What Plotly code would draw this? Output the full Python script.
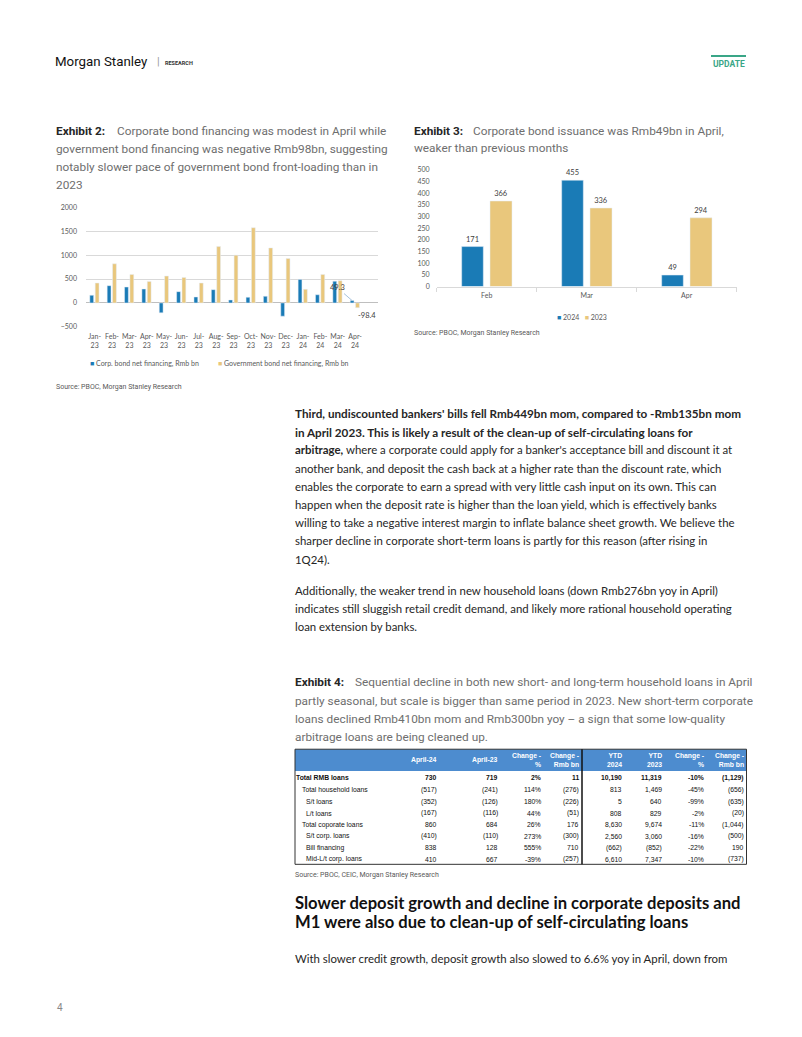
import plotly.graph_objects as go

W, H = 802, 1037
def X(px): return px / W
def Y(py): return 1 - py / H

# ---------------- data ----------------
months = ["Jan-<br>23", "Feb-<br>23", "Mar-<br>23", "Apr-<br>23", "May-<br>23", "Jun-<br>23",
          "Jul-<br>23", "Aug-<br>23", "Sep-<br>23", "Oct-<br>23", "Nov-<br>23", "Dec-<br>23",
          "Jan-<br>24", "Feb-<br>24", "Mar-<br>24", "Apr-<br>24"]
corp_net = [160, 361, 333, 291, -208, 236, 125, 278, 62, 118, 139, -278, 493, 171, 455, 49.3]
gov_net = [416, 819, 597, 451, 562, 534, 416, 1180, 1000, 1575, 1152, 930, 285, 597, 465, -98.4]
ex2_yticks = [-500, 0, 500, 1000, 1500, 2000]

ex3_months = ["Feb", "Mar", "Apr"]
iss_2024 = [171, 455, 49]
iss_2023 = [366, 336, 294]
ex3_yticks = [0, 50, 100, 150, 200, 250, 300, 350, 400, 450, 500]

tbl_headers = ["April-24", "April-23", "Change -<br>%", "Change -<br>Rmb bn",
               "YTD<br>2024", "YTD<br>2023", "Change -<br>%", "Change -<br>Rmb bn"]
row_labels = ["Total RMB loans", "Total household loans", "S/t loans", "L/t loans",
              "Total coporate loans", "S/t corp. loans", "Bill financing", "Mid-L/t corp. loans"]
row_indent = [0, 1, 2, 2, 1, 2, 2, 2]
col_apr24 = ["730", "(517)", "(352)", "(167)", "860", "(410)", "838", "410"]
col_apr23 = ["719", "(241)", "(126)", "(116)", "684", "(110)", "128", "667"]
col_chg_pct = ["2%", "114%", "180%", "44%", "26%", "273%", "555%", "-39%"]
col_chg_bn = ["11", "(276)", "(226)", "(51)", "176", "(300)", "710", "(257)"]
col_ytd24 = ["10,190", "813", "5", "808", "8,630", "2,560", "(662)", "6,610"]
col_ytd23 = ["11,319", "1,469", "640", "829", "9,674", "3,060", "(852)", "7,347"]
col_ytd_pct = ["-10%", "-45%", "-99%", "-2%", "-11%", "-16%", "-22%", "-10%"]
col_ytd_bn = ["(1,129)", "(656)", "(635)", "(20)", "(1,044)", "(500)", "190", "(737)"]
tbl_cols = [col_apr24, col_apr23, col_chg_pct, col_chg_bn, col_ytd24, col_ytd23, col_ytd_pct, col_ytd_bn]

BLUE = "#1a7bb6"
GOLD = "#e9c77c"
GREY_TXT = "#595959"

fig = go.Figure()

# ---------------- Exhibit 2 chart ----------------
fig.add_trace(go.Bar(x=months, y=corp_net, name="Corp. bond net financing, Rmb bn",
                     marker_color=BLUE, width=0.22, offset=-0.28, xaxis="x", yaxis="y",
                     showlegend=False))
fig.add_trace(go.Bar(x=months, y=gov_net, name="Government bond net financing, Rmb bn",
                     marker_color=GOLD, width=0.22, offset=0.03, xaxis="x", yaxis="y",
                     showlegend=False))

# ---------------- Exhibit 3 chart ----------------
fig.add_trace(go.Bar(x=ex3_months, y=iss_2024, name="2024", marker_color=BLUE,
                     width=0.216, offset=-0.25, xaxis="x2", yaxis="y2", showlegend=False,
                     text=iss_2024, textposition="outside", cliponaxis=False,
                     textfont=dict(size=7.5, color="#404040", family="Lato")))
fig.add_trace(go.Bar(x=ex3_months, y=iss_2023, name="2023", marker_color=GOLD,
                     width=0.22, offset=0.033, xaxis="x2", yaxis="y2", showlegend=False,
                     text=iss_2023, textposition="outside", cliponaxis=False,
                     textfont=dict(size=7.5, color="#404040", family="Lato")))

tickfont = dict(family="Lato", size=7, color=GREY_TXT)

fig.update_layout(
    width=W, height=H, margin=dict(l=0, r=0, t=0, b=0), autosize=False,
    paper_bgcolor="white", plot_bgcolor="rgba(0,0,0,0)",
    barmode="overlay",
    xaxis=dict(domain=[X(86), X(377.5)], anchor="y", type="category",
               showgrid=False, showline=False, ticks="", tickfont=tickfont, tickangle=0,
               ticklabelstandoff=4, fixedrange=True),
    yaxis=dict(domain=[Y(324.3), Y(204)], anchor="x", range=[-500, 2000],
               tickvals=ex2_yticks, showgrid=True, gridcolor="#d9d9d9", gridwidth=1,
               zeroline=True, zerolinecolor="#bfbfbf", zerolinewidth=1,
               showline=False, ticks="", tickfont=tickfont, ticklabelstandoff=8),
    xaxis2=dict(domain=[X(436.7), X(736.7)], anchor="y2", type="category",
                showgrid=False, showline=True, linecolor="#d9d9d9", linewidth=1,
                ticks="outside", tickson="boundaries", ticklen=4, tickcolor="#d9d9d9",
                tickfont=tickfont, tickangle=0, ticklabelstandoff=2),
    yaxis2=dict(domain=[Y(283.7), Y(166)], anchor="x2", range=[0, 500],
                tickvals=ex3_yticks, showgrid=False, zeroline=False, showline=False,
                ticks="", tickfont=tickfont, ticklabelstandoff=6),
)

ann = []
shapes = []

def text(x, y, s, size=12, color="#262626", family="Lato", xanchor="left", yanchor="middle", **kw):
    pad = -2 if xanchor == "left" else (2 if xanchor == "right" else 0)
    ann.append(dict(x=X(x + pad), y=Y(y), xref="paper", yref="paper", text=s, showarrow=False,
                    xanchor=xanchor, yanchor=yanchor, align=xanchor if xanchor != "center" else "center",
                    font=dict(size=size, color=color, family=family), **kw))

# chart 1 callouts (values from data)
ann.append(dict(x=15 - 0.17, y=corp_net[-1], xref="x", yref="y", text=f"{corp_net[-1]:.1f}",
                showarrow=True, arrowhead=0, arrowwidth=0.8, arrowcolor="#8fb3d3",
                ax=-15, ay=-13, font=dict(size=7.5, color="#404040", family="Lato")))
ann.append(dict(x=15 + 0.14, y=gov_net[-1], xref="x", yref="y", text=f"{gov_net[-1]:.1f}",
                showarrow=False, xanchor="left", yanchor="top", xshift=-2, yshift=-1,
                font=dict(size=7.5, color="#404040", family="Lato")))

# legends as text
text(90, 361, f'<span style="color:{BLUE}">■</span> Corp. bond net financing, Rmb bn', size=7, color=GREY_TXT)
text(218, 361, f'<span style="color:{GOLD}">■</span> Government bond net financing, Rmb bn', size=7, color=GREY_TXT)
text(582, 314, f'<span style="color:{BLUE}">■</span> 2024   <span style="color:{GOLD}">■</span> 2023',
     size=7, color=GREY_TXT, xanchor="center")

# header
text(55, 57, "Morgan Stanley", size=13.3, color="#111111", family="Roboto")
text(157, 57, "|", size=11, color="#999999", family="Roboto")
text(165, 58, "<b>RESEARCH</b>", size=5.5, color="#333333", family="Roboto")
text(728.5, 59, "<b>UPDATE</b>", size=8.5, color="#3aa687", family="Roboto", xanchor="center")
shapes.append(dict(type="line", xref="paper", yref="paper", x0=X(711), x1=X(746), y0=Y(51.5), y1=Y(51.5),
                   line=dict(color="#3aa687", width=2)))

# exhibit captions
CAP = "#6e6e6e"
CF = "Roboto"
CS = 11.8
text(56, 127, "<b>Exhibit 2:</b>", size=CS, color="#262626", family=CF)
text(117, 127, "Corporate bond financing was modest in April while", size=CS, color=CAP, family=CF)
text(56, 145, "government bond financing was negative Rmb98bn, suggesting", size=CS, color=CAP, family=CF)
text(56, 163, "notably slower pace of government bond front-loading than in", size=CS, color=CAP, family=CF)
text(56, 181, "2023", size=CS, color=CAP, family=CF)

text(414, 127, "<b>Exhibit 3:</b>", size=CS, color="#262626", family=CF)
text(473, 127, "Corporate bond issuance was Rmb49bn in April,", size=CS, color=CAP, family=CF)
text(414, 144.5, "weaker than previous months", size=CS, color=CAP, family=CF)

text(56, 385, "Source: PBOC, Morgan Stanley Research", size=7, color=GREY_TXT, family="Roboto")
text(414, 331, "Source: PBOC, Morgan Stanley Research", size=7, color=GREY_TXT, family="Roboto")

# body
BS = 11.4
body = [
    (411.5, "<b>Third, undiscounted bankers' bills fell Rmb449bn mom, compared to -Rmb135bn mom</b>", 11.7),
    (430, "<b>in April 2023. This is likely a result of the clean-up of self-circulating loans for</b>", 11.7),
    (448.3, "<b>arbitrage,</b> where a corporate could apply for a banker's acceptance bill and discount it at", BS),
    (466.7, "another bank, and deposit the cash back at a higher rate than the discount rate, which", BS),
    (485, "enables the corporate to earn a spread with very little cash input on its own. This can", BS),
    (503.3, "happen when the deposit rate is higher than the loan yield, which is effectively banks", BS),
    (521.7, "willing to take a negative interest margin to inflate balance sheet growth. We believe the", BS),
    (540, "sharper decline in corporate short-term loans is partly for this reason (after rising in", BS),
    (558.5, "1Q24).", BS),
    (590, "Additionally, the weaker trend in new household loans (down Rmb276bn yoy in April)", BS),
    (608.3, "indicates still sluggish retail credit demand, and likely more rational household operating", BS),
    (626.7, "loan extension by banks.", BS),
]
for yy, s, fs in body:
    text(295, yy, s, size=fs, color="#262626")

text(295, 682.7, "<b>Exhibit 4:</b>", size=CS, color="#262626", family=CF)
text(355, 682.7, "Sequential decline in both new short- and long-term household loans in April", size=CS, color=CAP, family=CF)
text(295, 701, "partly seasonal, but scale is bigger than same period in 2023. New short-term corporate", size=CS, color=CAP, family=CF)
text(295, 719.3, "loans declined Rmb410bn mom and Rmb300bn yoy – a sign that some low-quality", size=CS, color=CAP, family=CF)
text(295, 737.7, "arbitrage loans are being cleaned up.", size=CS, color=CAP, family=CF)

# table
TL, TR, TT, TB = 295, 746.5, 750, 866
shapes.append(dict(type="rect", xref="paper", yref="paper", x0=X(TL), x1=X(TR), y0=Y(772), y1=Y(TT),
                   fillcolor="#4d8ccf", line=dict(width=0), layer="below"))
shapes.append(dict(type="rect", xref="paper", yref="paper", x0=X(TL), x1=X(TR), y0=Y(TB), y1=Y(TT),
                   fillcolor="rgba(0,0,0,0)", line=dict(color="#333333", width=1)))
shapes.append(dict(type="line", xref="paper", yref="paper", x0=X(582), x1=X(582), y0=Y(TB), y1=Y(TT),
                   line=dict(color="#111111", width=1.5)))
col_right = [437, 498, 540.5, 579, 621.5, 661.5, 703.5, 744]
row_y = [779, 791, 802.7, 814.3, 826, 837.7, 849.3, 860.7]
TF = "Liberation Sans"
for cx, h in zip(col_right, tbl_headers):
    text(cx, 761, f"<b>{h}</b>", size=6.8, color="white", family=TF, xanchor="right")
indent_x = [296, 302, 306]
for i, lab in enumerate(row_labels):
    s = f"<b>{lab}</b>" if row_indent[i] == 0 else lab
    text(indent_x[row_indent[i]], row_y[i], s, size=6.8, color="#111111", family=TF)
    for cx, col in zip(col_right, tbl_cols):
        v = col[i]
        s = f"<b>{v}</b>" if i == 0 else v
        text(cx, row_y[i], s, size=6.8, color="#111111", family=TF, xanchor="right")

text(295, 877, "Source: PBOC, CEIC, Morgan Stanley Research", size=7, color=GREY_TXT, family="Roboto")

# heading
text(295, 905, "<b>Slower deposit growth and decline in corporate deposits and</b>", size=16.6, color="#111111")
text(295, 924, "<b>M1 were also due to clean-up of self-circulating loans</b>", size=16.6, color="#111111")
text(295, 961, "With slower credit growth, deposit growth also slowed to 6.6% yoy in April, down from", size=BS, color="#262626")

text(57, 1010, "4", size=10, color="#888888", family="Roboto")

fig.update_layout(annotations=ann, shapes=shapes)
fig.write_html("out.html", config={"displayModeBar": False, "staticPlot": True},
               post_script="document.body.style.margin='0';document.body.style.overflow='hidden';")
